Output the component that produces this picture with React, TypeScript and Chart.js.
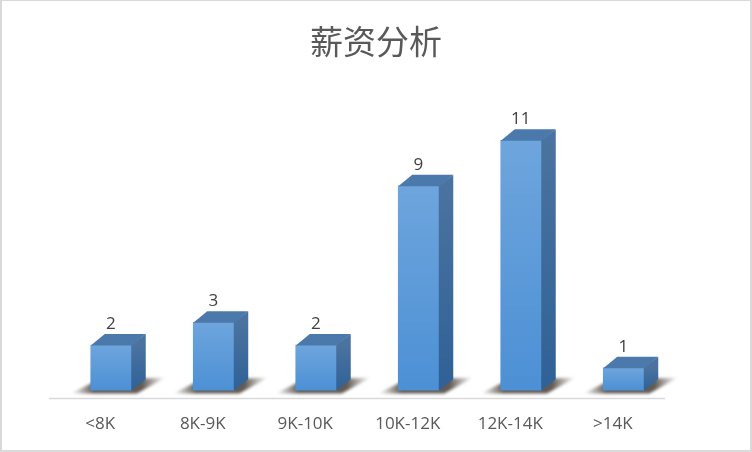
import { useEffect, useRef } from "react";
import { Chart, ChartConfiguration, Plugin, registerables } from "chart.js";

Chart.register(...registerables);

const categories = ["<8K", "8K-9K", "9K-10K", "10K-12K", "12K-14K", ">14K"];
const counts = [2, 3, 2, 9, 11, 1];

const DEPTH_X = 14;
const DEPTH_Y = 11;
const TEXT_COLOR = "#595959";
const FONT = '"Open Sans", "Noto Sans CJK SC", sans-serif';

// 标题按整张图居中，不跟随绘图区
const titleCenterPlugin: Plugin<"bar"> = {
  id: "titleCenter",
  afterLayout(chart: any) {
    chart.titleBlock.left = 0;
    chart.titleBlock.right = chart.width;
  },
};

// 地面阴影和底部轴线
const floorPlugin: Plugin<"bar"> = {
  id: "floor",
  beforeDatasetsDraw(chart) {
    const { ctx, chartArea } = chart;
    const base = chartArea.bottom;
    ctx.save();
    ctx.strokeStyle = "#d9d9d9";
    ctx.lineWidth = 1.5;
    ctx.beginPath();
    ctx.moveTo(chartArea.left - 11, base + 8);
    ctx.lineTo(chartArea.right - 10, base + 8);
    ctx.stroke();

    chart.getDatasetMeta(0).data.forEach((bar: any) => {
      const left = bar.x - bar.width / 2;
      const right = bar.x + bar.width / 2;
      const grad = ctx.createLinearGradient(left - 20, 0, right + 34, 0);
      grad.addColorStop(0, "rgba(110,104,98,0)");
      grad.addColorStop(0.24, "rgba(98,90,84,1)");
      grad.addColorStop(0.75, "rgba(98,90,84,1)");
      grad.addColorStop(1, "rgba(120,112,104,0)");
      ctx.save();
      ctx.filter = "blur(1.5px)";
      ctx.fillStyle = grad;
      ctx.beginPath();
      ctx.moveTo(left - 20, base + 3);
      ctx.lineTo(left + 6, base - 10);
      ctx.lineTo(right + 34, base - 13);
      ctx.lineTo(right + 5, base + 3);
      ctx.closePath();
      ctx.fill();
      ctx.restore();
    });
    ctx.restore();
  },
};

// 柱子的顶面、侧面和数值
const boxPlugin: Plugin<"bar"> = {
  id: "box",
  afterDatasetsDraw(chart) {
    const { ctx, chartArea } = chart;
    const base = chartArea.bottom;
    const values = chart.data.datasets[0].data as number[];
    ctx.save();
    chart.getDatasetMeta(0).data.forEach((bar: any, i: number) => {
      const left = bar.x - bar.width / 2;
      const right = bar.x + bar.width / 2;
      const top = bar.y;

      const side = ctx.createLinearGradient(0, top, 0, base);
      side.addColorStop(0, "#4a739f");
      side.addColorStop(1, "#2f6197");
      ctx.fillStyle = side;
      ctx.beginPath();
      ctx.moveTo(right - 0.5, top);
      ctx.lineTo(right + DEPTH_X, top - DEPTH_Y);
      ctx.lineTo(right + DEPTH_X, base - DEPTH_Y);
      ctx.lineTo(right - 0.5, base);
      ctx.closePath();
      ctx.fill();

      ctx.fillStyle = "#4c79ab";
      ctx.beginPath();
      ctx.moveTo(left, top + 0.5);
      ctx.lineTo(left + DEPTH_X, top - DEPTH_Y);
      ctx.lineTo(right + DEPTH_X, top - DEPTH_Y);
      ctx.lineTo(right, top + 0.5);
      ctx.closePath();
      ctx.fill();

      ctx.fillStyle = "#404040";
      ctx.font = `17px ${FONT}`;
      ctx.textAlign = "center";
      ctx.textBaseline = "middle";
      ctx.fillText(String(values[i]), bar.x - 0.5, top - 21);
    });
    ctx.restore();
  },
};

export default function App() {
  const canvasRef = useRef<HTMLCanvasElement | null>(null);

  useEffect(() => {
    document.body.style.margin = "0";
    if (!canvasRef.current) return;

    const config: ChartConfiguration<"bar"> = {
      type: "bar",
      data: {
        labels: categories,
        datasets: [
          {
            data: counts,
            barThickness: 41,
            backgroundColor: (c: any) => {
              const { ctx, chartArea, scales } = c.chart;
              if (!chartArea || !scales.y) return "#5b9bd5";
              const top = scales.y.getPixelForValue(counts[c.dataIndex]);
              if (!isFinite(top)) return "#5b9bd5";
              const g = ctx.createLinearGradient(0, top, 0, chartArea.bottom);
              g.addColorStop(0, "#6ea5dd");
              g.addColorStop(1, "#4c90d5");
              return g;
            },
          },
        ],
      },
      options: {
        responsive: false,
        animation: false,
        layout: { padding: { left: 60, right: 77, top: 0, bottom: 2 } },
        plugins: {
          legend: { display: false },
          tooltip: { enabled: false },
          title: {
            display: true,
            text: "薪资分析",
            color: TEXT_COLOR,
            font: { family: FONT, size: 33, weight: "normal" },
            padding: { top: 25, bottom: 53 },
          },
        },
        scales: {
          x: {
            grid: { display: false },
            border: { display: false },
            ticks: {
              color: TEXT_COLOR,
              font: { family: FONT, size: 17 },
              padding: 15.5,
              labelOffset: -11,
              maxRotation: 0,
            },
          },
          y: { display: false, min: 0, max: 12 },
        },
      },
      plugins: [titleCenterPlugin, floorPlugin, boxPlugin],
    };

    const chart = new Chart(canvasRef.current, config);
    return () => chart.destroy();
  }, []);

  return (
    <div style={{ position: "relative", width: 752, height: 452, overflow: "hidden" }}>
      <canvas ref={canvasRef} width={752} height={452} style={{ display: "block" }}></canvas>
      <div
        style={{
          position: "absolute",
          inset: 0,
          boxSizing: "border-box",
          borderStyle: "solid",
          borderColor: "#d9d9d9",
          borderWidth: "1px 2px 2px 2px",
          pointerEvents: "none",
        }}
      ></div>
    </div>
  );
}
